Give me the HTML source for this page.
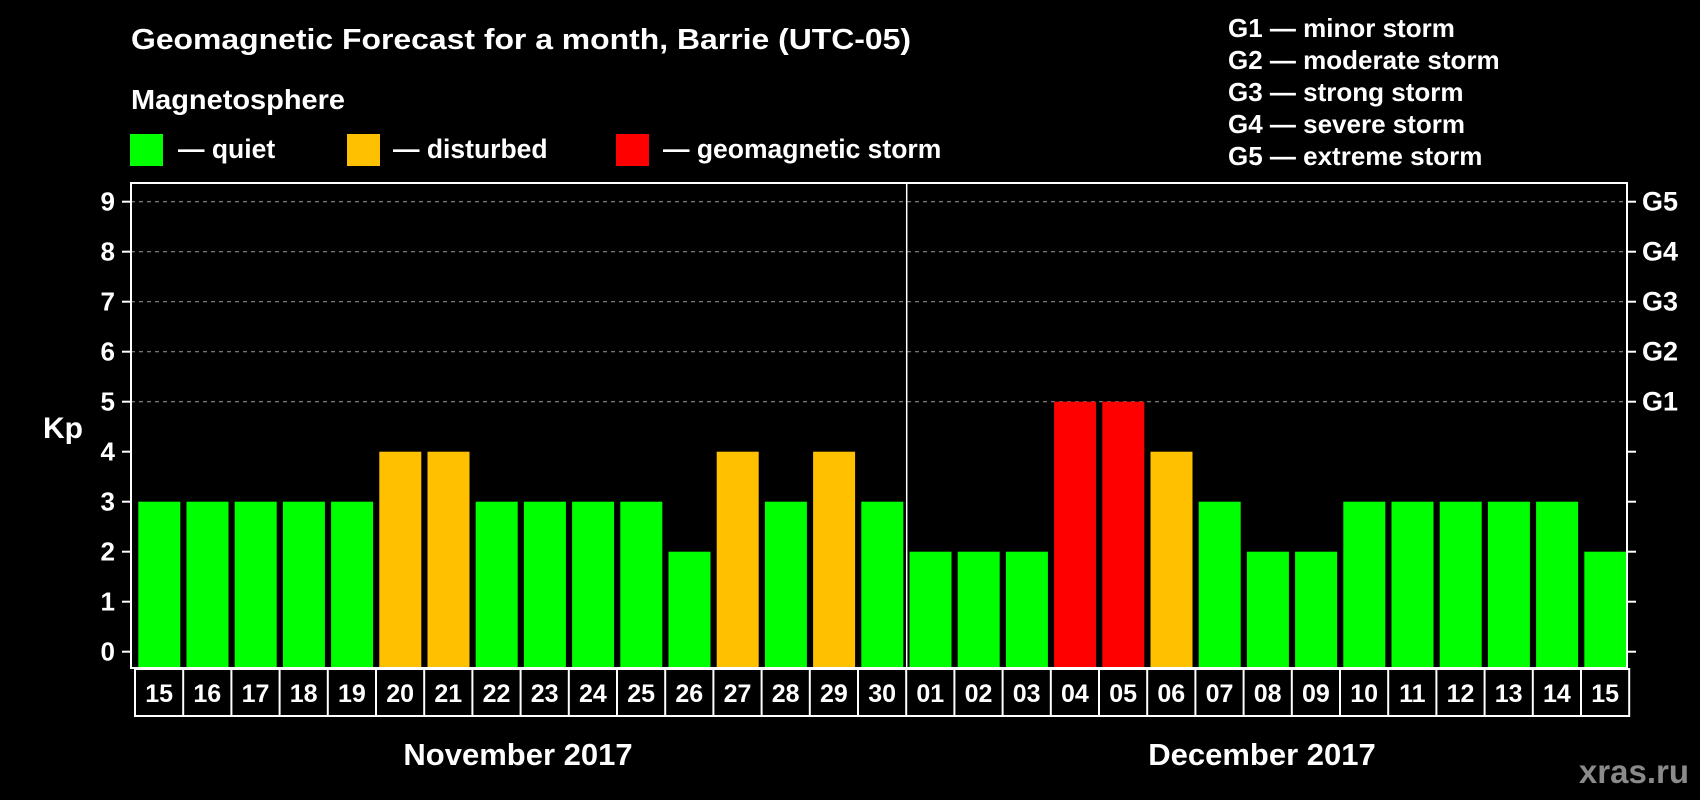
<!DOCTYPE html>
<html><head><meta charset="utf-8"><style>
html,body{margin:0;padding:0;background:#000;}
svg{display:block;font-family:"Liberation Sans",Arial,sans-serif;font-weight:bold;}
</style></head><body>
<svg id="chart" width="1700" height="800" viewBox="0 0 1700 800">
<rect width="1700" height="800" fill="#000"/>
<text x="131" y="49" fill="#fff" font-size="29" textLength="780" lengthAdjust="spacingAndGlyphs">Geomagnetic Forecast for a month, Barrie (UTC-05)</text>
<text x="131" y="109" fill="#fff" font-size="28" textLength="214" lengthAdjust="spacingAndGlyphs">Magnetosphere</text>
<g><rect x="130" y="134" width="33" height="32" fill="#00ff00"/><text x="178" y="158" fill="#fff" font-size="26.5">— quiet</text></g>
<g><rect x="347" y="134" width="33" height="32" fill="#ffc000"/><text x="393" y="158" fill="#fff" font-size="26.5">— disturbed</text></g>
<g><rect x="616" y="134" width="33" height="32" fill="#ff0000"/><text x="663" y="158" fill="#fff" font-size="26.5">— geomagnetic storm</text></g>
<g fill="#fff" font-size="26">
<text x="1228" y="37">G1 — minor storm</text>
<text x="1228" y="69">G2 — moderate storm</text>
<text x="1228" y="101">G3 — strong storm</text>
<text x="1228" y="133">G4 — severe storm</text>
<text x="1228" y="165">G5 — extreme storm</text>
</g>
<g id="grid"></g>
<g id="bars"></g>
<g id="axes"></g>
<text x="43" y="438" fill="#fff" font-size="30">Kp</text>
<text x="518" y="765" fill="#fff" font-size="31" text-anchor="middle">November 2017</text>
<text x="1262" y="765" fill="#fff" font-size="31" text-anchor="middle">December 2017</text>
<text x="1689" y="783" fill="#8a8a8a" font-size="33" text-anchor="end">xras.ru</text>
</svg>
<script>
const days = ["15","16","17","18","19","20","21","22","23","24","25","26","27","28","29","30","01","02","03","04","05","06","07","08","09","10","11","12","13","14","15"];
const kpValues = [3,3,3,3,3,4,4,3,3,3,3,2,4,3,4,3,2,2,2,5,5,4,3,2,2,3,3,3,3,3,2];
const yTicks = [0,1,2,3,4,5,6,7,8,9];
const gLabels = ["G1","G2","G3","G4","G5"];
const gLevels = [5,6,7,8,9];
const monthSplitIndex = 16;

const NS="http://www.w3.org/2000/svg";
const plotL=131, plotR=1627, plotT=183, plotB=668;
const y0=651.7, yUnit=50;
const slot=48.2, firstSlot=135;
function yScale(v){return y0 - v*yUnit;}
function xScale(i){return firstSlot + i*slot;}
function mk(tag,attrs,parent){const e=document.createElementNS(NS,tag);for(const k in attrs)e.setAttribute(k,attrs[k]);parent.appendChild(e);return e;}
function color(v){return v>=5?"#ff0000":(v>=4?"#ffc000":"#00ff00");}

const grid=document.getElementById('grid');
gLevels.forEach(v=>{
  const l=mk('line',{x1:plotL,x2:plotR,y1:yScale(v),y2:yScale(v),stroke:'#9a9a9a','stroke-width':1,'stroke-dasharray':'4,4'},grid);
  
  
});

const bars=document.getElementById('bars');
kpValues.forEach((v,i)=>{
  const r=mk('rect',{x:xScale(i)+3.3,y:yScale(v),width:42,height:plotB-yScale(v),fill:color(v)},bars);
  
  
});

const axes=document.getElementById('axes');
const frame=mk('rect',{x:plotL,y:plotT,width:plotR-plotL,height:plotB-plotT,fill:'none',stroke:'#fff','stroke-width':2},axes);


const split=mk('line',{x1:xScale(monthSplitIndex)+0.5,x2:xScale(monthSplitIndex)+0.5,y1:plotT,y2:plotB,stroke:'#fff','stroke-width':1.5},axes);


yTicks.forEach(v=>{
  mk('line',{x1:plotL-9,x2:plotL,y1:yScale(v),y2:yScale(v),stroke:'#fff','stroke-width':2},axes);
  mk('line',{x1:plotR,x2:plotR+9,y1:yScale(v),y2:yScale(v),stroke:'#fff','stroke-width':2},axes);
  const t=mk('text',{x:115,y:yScale(v)+9,fill:'#fff','font-size':26,'text-anchor':'end'},axes);
  t.textContent=String(v);
  
  
});
gLabels.forEach((g,i)=>{
  const t=mk('text',{x:1642,y:yScale(gLevels[i])+9,fill:'#fff','font-size':27},axes);
  t.textContent=g;
  
  
});
const boxR=mk('rect',{x:xScale(0),y:plotB+1,width:slot*days.length,height:47,fill:'none',stroke:'#fff','stroke-width':2},axes);


days.forEach((d,i)=>{
  if(i>0) mk('line',{x1:xScale(i),x2:xScale(i),y1:plotB+1,y2:plotB+48,stroke:'#fff','stroke-width':2},axes);
  const t=mk('text',{x:xScale(i)+slot/2,y:plotB+34,fill:'#fff','font-size':25,'text-anchor':'middle'},axes);
  t.textContent=d;
  
  
});
</script>
</body></html>
